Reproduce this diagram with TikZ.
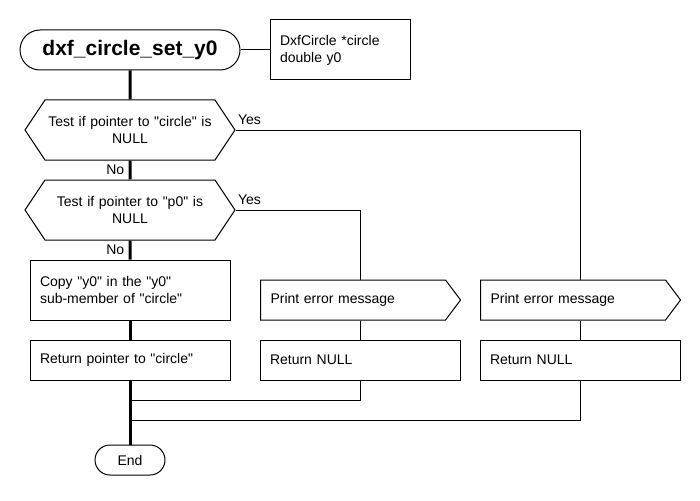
\documentclass[tikz,border=0pt]{standalone}
\usepackage{fontspec}
\setmainfont{Liberation Sans}
\usetikzlibrary{shapes.symbols}

\newcommand{\quoted}[1]{\textquotedbl#1\textquotedbl}

\tikzset{
  txt/.style={font=\fontsize{14pt}{17pt}\selectfont},
  terminal/.style={txt, draw, rounded corners=15pt, line width=1pt},
  process/.style={txt, draw, line width=1pt, minimum width=200pt, text width=180pt,
    inner xsep=10pt, align=left},
  decision/.style={txt, draw, line width=1pt, signal, signal to=west and east,
    signal pointer angle=112.62, minimum width=210pt, minimum height=60pt,
    text width=164pt, inner xsep=3pt, align=center},
  output/.style={txt, draw, line width=1pt, signal, signal to=east,
    signal pointer angle=106.26, minimum height=40pt, text width=165pt,
    inner xsep=10pt, align=left},
  spine/.style={line width=3pt},
  link/.style={line width=1pt},
}

\begin{document}
\begin{tikzpicture}[x=1pt,y=-1pt]
	\useasboundingbox (0,0) rectangle (700,500);
	% header
	\node[terminal, rounded corners=20pt, minimum width=220pt, minimum height=40pt,
	  font=\fontsize{21pt}{25pt}\selectfont\bfseries] (start) at (130,50) {dxf\_circle\_set\_y0};
	\node[process, minimum width=140pt, text width=120pt, minimum height=60pt] (params) at (340,50)
	  {DxfCircle *circle\\double y0};
	% tests
	\node[decision] (test1) at (130,130) {Test if pointer to \quoted{circle} is\\NULL};
	\node[decision] (test2) at (130,210) {Test if pointer to \quoted{p0} is\\NULL};
	% actions
	\node[process, minimum height=60pt] (copy) at (130,290)
	  {Copy \quoted{y0} in the \quoted{y0}\\sub-member of \quoted{circle}};
	\node[process, minimum height=40pt] (retok) at (130,360) {Return pointer to \quoted{circle}};
	\node[output, anchor=west] (err1) at (260,300) {Print error message};
	\node[process, minimum height=40pt] (ret1) at (360,360) {Return NULL};
	\node[output, anchor=west] (err2) at (480,300) {Print error message};
	\node[process, minimum height=40pt] (ret2) at (580,360) {Return NULL};
	\node[terminal, minimum width=70pt, minimum height=30pt] (end) at (130,460) {End};
	\coordinate (join1) at (130,400);
	\coordinate (join2) at (130,420);
	% main line
	\draw[link] (start) -- (params);
	\draw[spine] (start) -- (test1);
	\draw[spine] (test1) -- node[txt, left, xshift=-1pt] {No} (test2);
	\draw[spine] (test2) -- node[txt, left, xshift=-1pt] {No} (copy);
	\draw[spine] (copy) -- (retok);
	\draw[spine] (retok) -- (end);
	% error branches
	\draw[link] (test1.east) node[txt, anchor=south west, inner sep=2pt, yshift=3pt] {Yes}
	  -| (ret2.north |- err2.north);
	\draw[link] (test2.east) node[txt, anchor=south west, inner sep=2pt, yshift=3pt] {Yes}
	  -| (ret1.north |- err1.north);
	\draw[link] (ret1.north |- err1.south) -- (ret1.north);
	\draw[link] (ret2.north |- err2.south) -- (ret2.north);
	\draw[link] (ret1) |- (join1);
	\draw[link] (ret2) |- (join2);
\end{tikzpicture}
\end{document}
